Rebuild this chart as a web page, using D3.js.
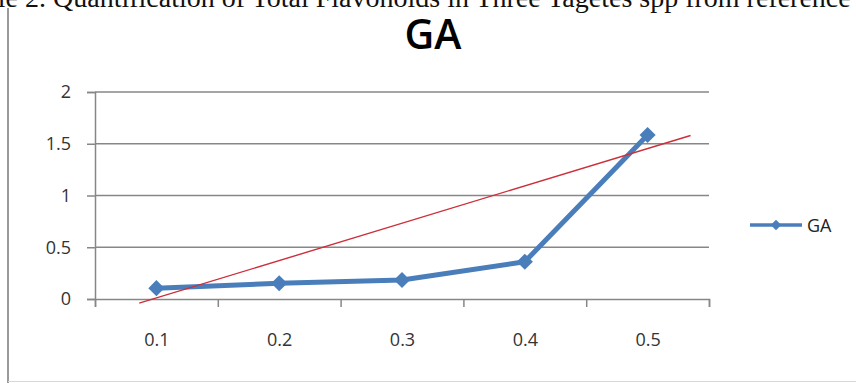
<!DOCTYPE html>
<html>
<head>
<meta charset="utf-8">
<script src="https://cdnjs.cloudflare.com/ajax/libs/d3/7.8.5/d3.min.js"></script>
<style>
  html, body { margin: 0; padding: 0; background: #fff; overflow: hidden; }
  svg { display: block; }
</style>
</head>
<body>
<div class="chart"></div>
<script>
const WIDTH = 856;
const HEIGHT = 383;
const PLOT = {LEFT: 95, RIGHT: 709, TOP: 92, BOTTOM: 299};

// data
const categories = ['0.1', '0.2', '0.3', '0.4', '0.5'];
const xValues = [0.1, 0.2, 0.3, 0.4, 0.5];
const gaValues = [0.105, 0.152, 0.184, 0.36, 1.585];
const trendX = [0.086, 0.535];
const trendY = [-0.04, 1.58];
const yTicks = [0, 0.5, 1, 1.5, 2];
const seriesName = 'GA';
const chartTitle = 'GA';
const captionLead = 'Table 2.';
const captionText = 'Quantification of Total Flavonoids in Three Tagetes spp from reference curve';

const BLUE = '#4a7ebb';
const GRID = '#878787';
const LABEL_FONT = '18px "Open Sans"';

var xScale = d3.scaleLinear().domain([0.05, 0.55]).range([PLOT.LEFT, PLOT.RIGHT]);
var yScale = d3.scaleLinear().domain([0, 2]).range([PLOT.BOTTOM, PLOT.TOP]);

var svg = d3.select('.chart').append('svg')
    .attr('width', WIDTH)
    .attr('height', HEIGHT);

svg.append('rect').attr('width', WIDTH).attr('height', HEIGHT).attr('fill', '#fff');

// caption cut at the top of the picture
svg.append('text')
    .attr('x', 46).attr('y', 7)
    .attr('text-anchor', 'end')
    .style('font', '28px "Liberation Serif"')
    .attr('fill', '#111')
    .text(captionLead);
svg.append('text')
    .attr('x', 53).attr('y', 7)
    .style('font', '28px "Liberation Serif"')
    .attr('fill', '#111')
    .text(captionText);

// frame
svg.append('line').attr('x1', 8).attr('x2', 8).attr('y1', 8).attr('y2', HEIGHT)
    .attr('stroke', '#9a9a9a').attr('stroke-width', 2);
svg.append('line').attr('x1', 8).attr('x2', WIDTH).attr('y1', 381.5).attr('y2', 381.5)
    .attr('stroke', '#d8d8d8').attr('stroke-width', 1);

// title
svg.append('text')
    .attr('x', 433).attr('y', 49)
    .attr('text-anchor', 'middle')
    .style('font', '600 41px "Open Sans"')
    .attr('fill', '#000')
    .text(chartTitle);

// gridlines
svg.append('g').selectAll('line')
    .data(yTicks.filter(d => d > 0))
    .join('line')
    .attr('x1', PLOT.LEFT).attr('x2', PLOT.RIGHT)
    .attr('y1', d => yScale(d)).attr('y2', d => yScale(d))
    .attr('stroke', GRID).attr('stroke-width', 1.5);

// y axis
var yAxis = d3.axisLeft(yScale)
    .tickValues(yTicks)
    .tickSize(8)
    .tickPadding(16)
    .tickFormat(d3.format('~g'));

var yAxisG = svg.append('g')
    .attr('transform', 'translate(' + PLOT.LEFT + ',0)')
    .call(yAxis);
yAxisG.select('.domain').attr('stroke', GRID).attr('stroke-width', 1.5);
yAxisG.selectAll('.tick line').attr('stroke', GRID).attr('stroke-width', 1.5);
yAxisG.selectAll('text')
    .style('font', LABEL_FONT)
    .attr('fill', '#333');

// x axis: tick marks between categories, labels at centres
var bounds = xValues.map(v => v - 0.05).concat([xValues[xValues.length - 1] + 0.05]);
var xAxisG = svg.append('g')
    .attr('transform', 'translate(0,' + PLOT.BOTTOM + ')')
    .call(d3.axisBottom(xScale).tickValues(bounds).tickSize(8).tickFormat(''));
xAxisG.select('.domain').attr('stroke', GRID).attr('stroke-width', 1.5);
xAxisG.selectAll('.tick line').attr('stroke', GRID).attr('stroke-width', 1.5);

var xLabelG = svg.append('g')
    .attr('transform', 'translate(0,' + PLOT.BOTTOM + ')')
    .call(d3.axisBottom(xScale).tickValues(xValues).tickSize(0).tickPadding(34)
        .tickFormat((d, i) => categories[i]));
xLabelG.select('.domain').remove();
xLabelG.selectAll('text')
    .style('font', LABEL_FONT)
    .attr('fill', '#333');

// GA series
var line = d3.line()
    .x((d, i) => xScale(xValues[i]))
    .y(d => yScale(d));

svg.append('path')
    .datum(gaValues)
    .attr('d', line)
    .attr('fill', 'none')
    .attr('stroke', BLUE)
    .attr('stroke-width', 5)
    .attr('stroke-linejoin', 'round');

svg.append('g').selectAll('path')
    .data(gaValues)
    .join('path')
    .attr('d', d3.symbol(d3.symbolSquare, 130))
    .attr('transform', (d, i) => 'translate(' + xScale(xValues[i]) + ',' + yScale(d) + ') rotate(45)')
    .attr('fill', BLUE);

// red trend line
svg.append('path')
    .datum(trendX.map((v, i) => [v, trendY[i]]))
    .attr('d', d3.line().x(d => xScale(d[0])).y(d => yScale(d[1])))
    .attr('fill', 'none')
    .attr('stroke', '#cc2f3a')
    .attr('stroke-width', 1.4);

// legend
var legend = svg.append('g').attr('transform', 'translate(750,225)');
legend.append('line')
    .attr('x1', 0).attr('x2', 52).attr('y1', 0).attr('y2', 0)
    .attr('stroke', BLUE).attr('stroke-width', 3.5);
legend.append('path')
    .attr('d', d3.symbol(d3.symbolSquare, 55))
    .attr('transform', 'translate(26,0) rotate(45)')
    .attr('fill', BLUE);
legend.append('text')
    .attr('x', 57).attr('y', 7)
    .style('font', LABEL_FONT)
    .attr('fill', '#222')
    .text(seriesName);
</script>
</body>
</html>
